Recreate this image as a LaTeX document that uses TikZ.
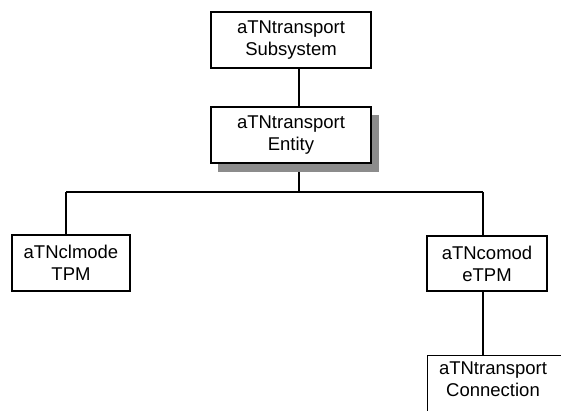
\documentclass[tikz,border=0pt]{standalone}
\usepackage{fontspec}
\setmainfont{Liberation Sans}
\begin{document}
\begin{tikzpicture}[x=1pt,y=1pt,
  box/.style={draw=black, line width=1.4pt, fill=white, rectangle, align=center, inner sep=0pt,
    font=\fontsize{18.5}{22}\selectfont},
  conn/.style={draw=black, line width=1.4pt}]
\useasboundingbox (0,0) rectangle (561,-411);
\clip (0,0) rectangle (561,-411);
% shadow
\fill[black!45] (218,-115) rectangle (379,-172);
\node[box, minimum width=160pt, minimum height=56pt] (sub) at (291,-40) {aTNtransport\\Subsystem};
\node[box, minimum width=160pt, minimum height=56pt] (ent) at (291,-135) {aTNtransport\\Entity};
\node[box, minimum width=118pt, minimum height=56pt] (cl) at (71,-263) {aTNclmode\\TPM};
\node[box, minimum width=120pt, minimum height=55pt] (co) at (487,-263.5) {aTNcomod\\eTPM};
\node[box, minimum width=140pt, minimum height=62pt, anchor=north west] (con) at (427,-355) {};
\node[font=\fontsize{18.5}{22}\selectfont, align=center, anchor=north, inner sep=0pt] (contxt) at (493,-362) {aTNtransport\\Connection};
\coordinate (bus) at (299,-192);
\coordinate (busL) at (66,-192);
\coordinate (busR) at (483,-192);
\draw[conn] (sub.south -| bus) -- (ent.north -| bus);
\draw[conn] (bus |- 0,-172) -- (bus);
\draw[conn] (busL) -- (busR);
\draw[conn] (busL) -- (cl.north -| busL);
\draw[conn] (busR) -- (co.north -| busR);
\draw[conn] (co.south -| busR) -- (con.north -| busR);
\end{tikzpicture}
\end{document}
